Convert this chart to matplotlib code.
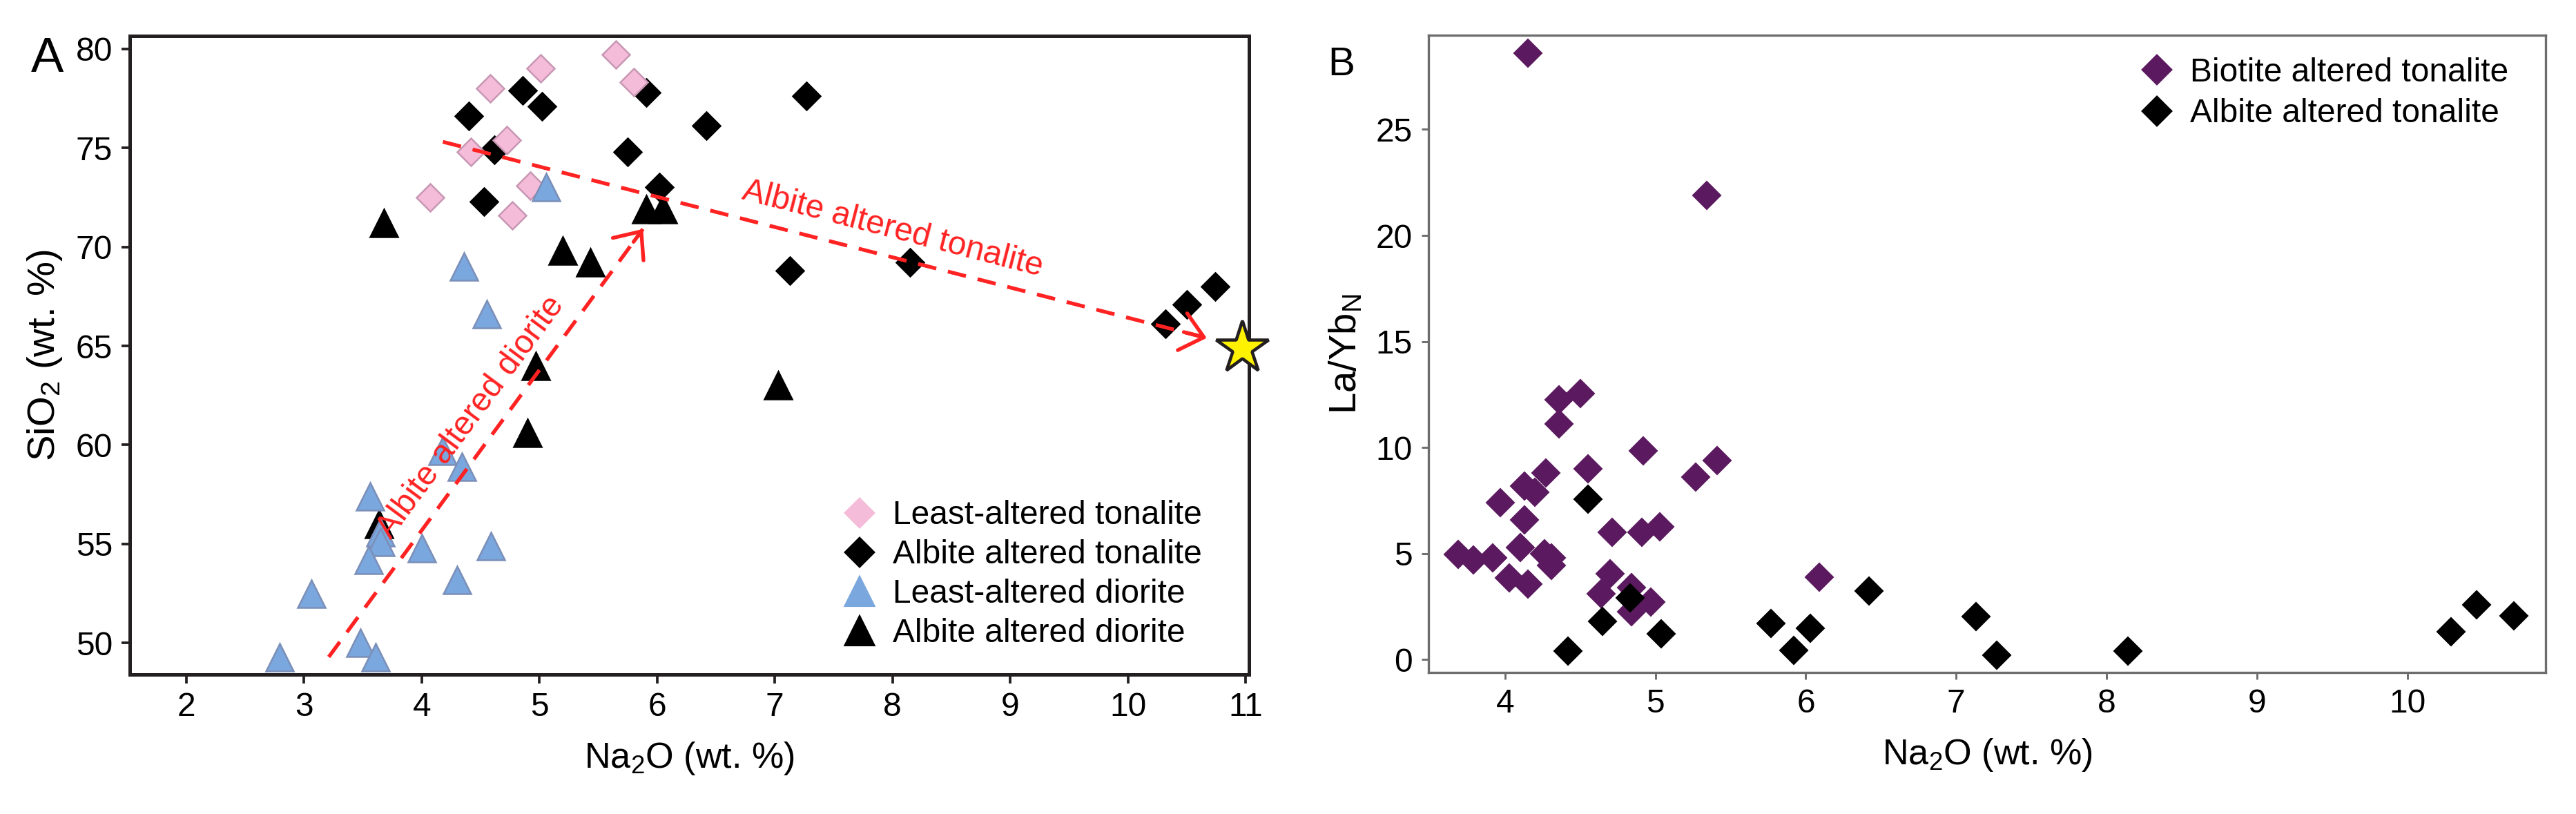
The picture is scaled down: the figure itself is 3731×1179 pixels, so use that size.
import matplotlib
matplotlib.use('Agg')
import matplotlib.pyplot as plt
from matplotlib.lines import Line2D

plt.rcParams['font.family'] = ['Liberation Sans', 'DejaVu Sans']
plt.rcParams['mathtext.fontset'] = 'custom'
plt.rcParams['mathtext.rm'] = 'Liberation Sans'
plt.rcParams['mathtext.it'] = 'Liberation Sans'

# ---- panel A: SiO2 vs Na2O ----
least_ton_na2o = [4.07, 4.42, 4.58, 4.72, 4.77, 4.92, 5.01, 5.65, 5.80]
least_ton_sio2 = [72.5, 74.8, 78.0, 75.4, 71.6, 73.1, 79.0, 79.7, 78.3]

albite_ton_na2o = [4.40, 4.53, 4.62, 4.86, 5.02, 5.75, 5.91, 6.02, 6.42, 7.13, 7.27, 8.15, 10.32, 10.50, 10.74]
albite_ton_sio2 = [76.6, 72.3, 74.9, 77.9, 77.1, 74.8, 77.8, 73.0, 76.1, 68.8, 77.6, 69.2, 66.1, 67.1, 68.0]

least_dio_na2o = [5.06, 4.36, 4.55, 4.18, 4.34, 3.56, 3.65, 3.65, 3.55, 4.00, 4.59, 4.30, 3.06, 3.48, 2.79, 3.61]
least_dio_sio2 = [73.0, 69.0, 66.6, 59.7, 58.9, 57.4, 55.6, 55.1, 54.2, 54.8, 54.9, 53.2, 52.5, 50.0, 49.3, 49.3]

albite_dio_na2o = [3.68, 5.20, 5.43, 4.97, 5.91, 6.05, 7.03, 4.90, 3.64]
albite_dio_sio2 = [71.2, 69.8, 69.2, 64.0, 71.9, 71.9, 63.0, 60.6, 56.0]

albite_endmember = (10.97, 64.9)

dio_trend = [(3.21, 49.3), (5.88, 70.9)]
ton_trend = [(4.18, 75.3), (10.67, 65.4)]

# ---- panel B: La/Yb_N vs Na2O ----
biotite_na2o = [4.15, 5.34, 4.36, 4.50, 4.36, 4.92, 5.41, 4.55, 5.27, 4.27, 4.13, 4.20, 3.97, 4.13,
                4.71, 4.91, 5.03, 3.69, 3.79, 3.92, 4.10, 4.26, 4.31, 4.31, 4.03, 4.15, 4.70, 4.64,
                4.84, 4.97, 4.84, 6.09]
biotite_layb = [28.6, 21.9, 12.25, 12.55, 11.1, 9.85, 9.4, 9.0, 8.6, 8.8, 8.2, 7.9, 7.4, 6.6,
                6.0, 6.0, 6.25, 4.95, 4.7, 4.8, 5.3, 5.0, 4.8, 4.45, 3.85, 3.55, 4.05, 3.1,
                3.4, 2.7, 2.25, 3.9]

albite_b_na2o = [4.55, 4.42, 4.65, 4.83, 5.04, 5.77, 5.92, 6.03, 6.42, 7.13, 7.27, 8.14, 10.29, 10.46, 10.71]
albite_b_layb = [7.55, 0.42, 1.8, 2.9, 1.23, 1.72, 0.44, 1.47, 3.24, 2.03, 0.2, 0.42, 1.3, 2.57, 2.08]

pink = '#f4bcd9'
pink_edge = '#c797b4'
blue = '#7aa7dd'
blue_edge = '#7b8fb8'
purple = '#5b1a5f'
red = '#ff2222'

fig = plt.figure(figsize=(3731/300, 1179/300), dpi=300)
axA = fig.add_axes([0.0504, 0.171, 0.4345, 0.785])
axB = fig.add_axes([0.5545, 0.174, 0.4337, 0.783])

dms = 6.8
tms = 9.4
axA.plot(albite_ton_na2o, albite_ton_sio2, ls='', marker='D', ms=dms, mfc='black', mec='black', mew=0.6, zorder=3)
axA.plot(least_ton_na2o, least_ton_sio2, ls='', marker='D', ms=dms, mfc=pink, mec=pink_edge, mew=0.6, zorder=4)
axA.plot(albite_dio_na2o, albite_dio_sio2, ls='', marker='^', ms=tms, mfc='black', mec='black', mew=0.6, zorder=3)
axA.plot(least_dio_na2o, least_dio_sio2, ls='', marker='^', ms=tms, mfc=blue, mec=blue_edge, mew=0.6, zorder=5)
axA.plot(*albite_endmember, ls='', marker='*', ms=19, mfc='#fff200', mec='#231f20', mew=1.1, zorder=6, clip_on=False)

# trend arrows
for (x0, y0), (x1, y1) in (dio_trend, ton_trend):
    axA.plot([x0, x1], [y0, y1], color=red, lw=1.3, dashes=(5, 3.2), zorder=6)
    axA.annotate('', xy=(x1, y1), xytext=(x0 + 0.97*(x1-x0), y0 + 0.97*(y1-y0)),
                 arrowprops=dict(arrowstyle='->,head_length=0.35,head_width=0.3', color=red,
                                 lw=1.3, mutation_scale=22, shrinkA=0, shrinkB=0), zorder=6)

axA.text(8.0, 70.9, 'Albite altered tonalite', color=red, fontsize=11.5,
         rotation=-14.5, ha='center', va='center', rotation_mode='anchor', zorder=7)
axA.text(4.42, 61.4, 'Albite altered diorite', color=red, fontsize=11.5,
         rotation=53.5, ha='center', va='center', rotation_mode='anchor', zorder=7)

axA.set_xlim(1.52, 11.03)
axA.set_ylim(48.4, 80.65)
axA.set_xticks(range(2, 12))
axA.set_yticks(range(50, 81, 5))
axA.set_xlabel('Na$_2$O (wt. %)', fontsize=12.5, labelpad=6)
axA.set_ylabel('SiO$_2$ (wt. %)', fontsize=13.5, labelpad=4)
for s in axA.spines.values():
    s.set_color('#231f20')
    s.set_linewidth(1.2)
axA.tick_params(direction='out', length=3, width=0.9, color='#231f20', labelsize=11.5, pad=3)

handlesA = [
    Line2D([], [], ls='', marker='D', ms=dms, mfc=pink, mec=pink, label='Least-altered tonalite'),
    Line2D([], [], ls='', marker='D', ms=dms, mfc='black', mec='black', label='Albite altered tonalite'),
    Line2D([], [], ls='', marker='^', ms=tms, mfc=blue, mec=blue, label='Least-altered diorite'),
    Line2D([], [], ls='', marker='^', ms=tms, mfc='black', mec='black', label='Albite altered diorite'),
]
axA.legend(handles=handlesA, loc='lower right', bbox_to_anchor=(0.958, 0.04), frameon=False,
           fontsize=11.5, borderpad=0, borderaxespad=0, handlelength=1.0, handletextpad=0.5,
           labelspacing=0.25)

# panel B
axB.plot(biotite_na2o, biotite_layb, ls='', marker='D', ms=dms, mfc=purple, mec=purple, mew=0.5, zorder=3)
axB.plot(albite_b_na2o, albite_b_layb, ls='', marker='D', ms=dms, mfc='black', mec='black', mew=0.5, zorder=4)
axB.set_xlim(3.49, 10.92)
axB.set_ylim(-0.6, 29.45)
axB.set_xticks(range(4, 11))
axB.set_yticks(range(0, 26, 5))
axB.set_xlabel('Na$_2$O (wt. %)', fontsize=12.5, labelpad=6)
axB.set_ylabel('La/Yb$_\\mathrm{N}$', fontsize=13.5, labelpad=4)
for s in axB.spines.values():
    s.set_color('#6d6d6d')
    s.set_linewidth(0.8)
axB.tick_params(direction='out', length=2.5, width=0.7, color='#6d6d6d', labelsize=11.5, pad=3)

handlesB = [
    Line2D([], [], ls='', marker='D', ms=dms, mfc=purple, mec=purple, label='Biotite altered tonalite'),
    Line2D([], [], ls='', marker='D', ms=dms, mfc='black', mec='black', label='Albite altered tonalite'),
]
axB.legend(handles=handlesB, loc='upper right', bbox_to_anchor=(0.967, 0.965), frameon=False,
           fontsize=11.5, borderpad=0, borderaxespad=0, handlelength=1.0, handletextpad=0.5,
           labelspacing=0.3)

fig.text(0.012, 0.955, 'A', fontsize=17, va='top', ha='left')
fig.text(0.5154, 0.943, 'B', fontsize=14, va='top', ha='left')

fig.savefig('out.png', dpi=300)
